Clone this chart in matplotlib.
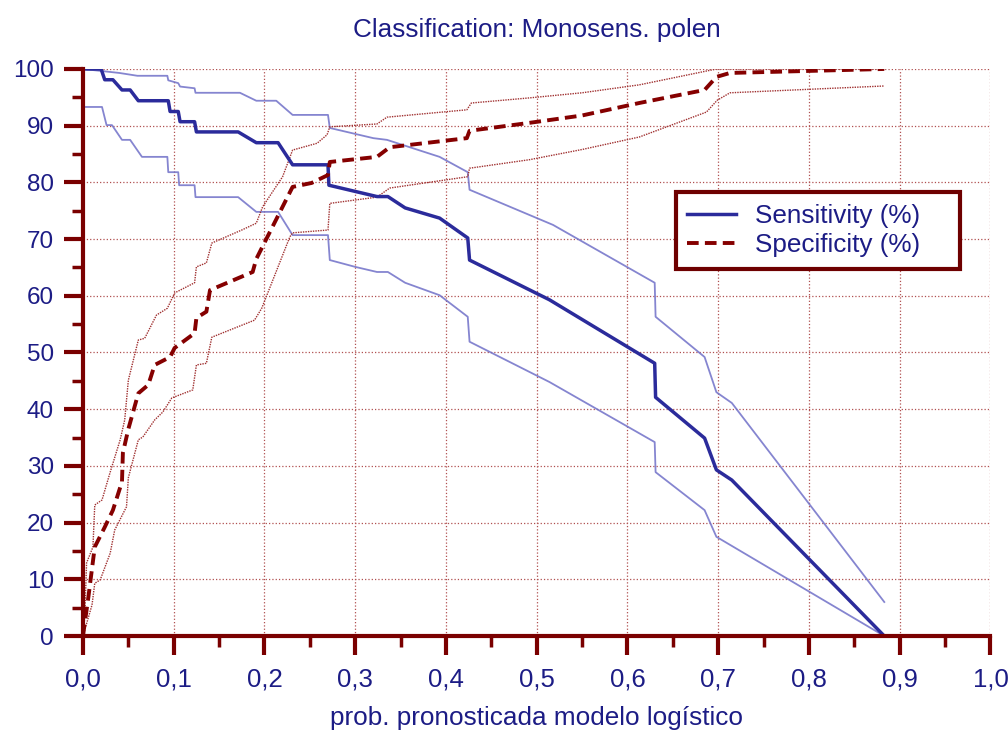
import numpy as np
import matplotlib.pyplot as plt
from matplotlib.ticker import MultipleLocator

plt.rcParams['font.family'] = ['Liberation Sans', 'DejaVu Sans']

# sensitivity (%) with band
sens_x = [0.000, 0.020, 0.024, 0.033, 0.043, 0.052, 0.061, 0.094, 0.096, 0.105, 0.107, 0.123, 0.125,
          0.171, 0.191, 0.215, 0.231, 0.270, 0.271, 0.324, 0.336, 0.355, 0.393, 0.424, 0.426, 0.514,
          0.630, 0.631, 0.685, 0.698, 0.715, 0.883]
sens_y = [100, 100, 98.1, 98.1, 96.3, 96.3, 94.4, 94.4, 92.5, 92.5, 90.7, 90.7, 88.9,
          88.9, 87.0, 87.0, 83.1, 83.1, 79.5, 77.5, 77.5, 75.5, 73.7, 70.2, 66.3, 59.3,
          48.1, 42.1, 34.9, 29.3, 27.5, 0]
su_x = [0, 0.040, 0.060, 0.093, 0.094, 0.105, 0.107, 0.123, 0.124, 0.173, 0.191, 0.213, 0.231, 0.270,
        0.272, 0.320, 0.335, 0.393, 0.424, 0.426, 0.518, 0.630, 0.631, 0.685, 0.698, 0.715, 0.883]
su_y = [100, 99.3, 98.8, 98.8, 98.0, 97.5, 96.9, 96.6, 95.8, 95.8, 94.4, 94.4, 91.9, 91.9,
        89.6, 87.8, 87.5, 84.5, 81.8, 78.7, 72.5, 62.3, 56.3, 49.2, 43.0, 41.1, 6.0]
sl_x = [0, 0.021, 0.026, 0.032, 0.043, 0.052, 0.065, 0.093, 0.094, 0.105, 0.106, 0.123, 0.124, 0.171,
        0.191, 0.215, 0.231, 0.270, 0.272, 0.300, 0.324, 0.336, 0.355, 0.393, 0.424, 0.426, 0.514,
        0.630, 0.631, 0.685, 0.698, 0.883]
sl_y = [93.3, 93.3, 90.1, 90.1, 87.5, 87.5, 84.5, 84.5, 81.8, 81.8, 79.5, 79.5, 77.4, 77.4,
        74.8, 74.8, 70.7, 70.7, 66.3, 65.1, 64.2, 64.2, 62.3, 60.1, 56.3, 51.9, 44.8,
        34.2, 28.9, 22.2, 17.5, 0]

# specificity (%) with band
spec_x = [0, 0.006, 0.013, 0.024, 0.033, 0.043, 0.044, 0.050, 0.061, 0.072, 0.079, 0.096, 0.101,
          0.123, 0.125, 0.136, 0.140, 0.187, 0.191, 0.231, 0.252, 0.270, 0.272, 0.324, 0.338,
          0.423, 0.426, 0.492, 0.550, 0.613, 0.685, 0.698, 0.713, 0.883]
spec_y = [0, 6.9, 15.7, 19.2, 22.2, 27.2, 32.3, 36.5, 42.8, 44.3, 47.8, 49.2, 50.8,
          53.4, 56.1, 57.2, 61.0, 64.2, 66.5, 79.2, 79.9, 81.3, 83.6, 84.5, 86.2,
          87.8, 89.1, 90.5, 91.8, 94.0, 96.3, 98.6, 99.3, 100]
spu_x = [0, 0.002, 0.004, 0.011, 0.013, 0.021, 0.030, 0.041, 0.046, 0.050, 0.061, 0.068, 0.081,
         0.093, 0.101, 0.123, 0.125, 0.136, 0.142, 0.175, 0.191, 0.198, 0.220, 0.231, 0.258,
         0.269, 0.272, 0.324, 0.335, 0.423, 0.428, 0.492, 0.550, 0.613, 0.698, 0.883]
spu_y = [0, 3.4, 12.9, 15.7, 23.1, 24.0, 28.9, 34.6, 38.1, 45.1, 52.2, 52.5, 56.6,
         57.8, 60.5, 62.3, 65.1, 65.8, 69.3, 71.6, 72.8, 75.7, 81.0, 85.7, 86.9,
         88.4, 89.8, 90.3, 91.5, 92.8, 94.0, 94.9, 95.8, 97.2, 100, 100]
spl_x = [0, 0.010, 0.013, 0.019, 0.030, 0.035, 0.048, 0.050, 0.061, 0.066, 0.079, 0.088, 0.098,
         0.121, 0.125, 0.136, 0.142, 0.189, 0.197, 0.228, 0.231, 0.270, 0.272, 0.324, 0.338,
         0.424, 0.426, 0.492, 0.550, 0.613, 0.687, 0.699, 0.713, 0.883]
spl_y = [0, 5.5, 9.3, 9.9, 14.6, 18.7, 22.8, 27.9, 34.6, 35.1, 38.1, 39.5, 42.0,
         43.4, 47.8, 48.1, 52.7, 55.7, 57.8, 70.4, 71.1, 71.6, 76.3, 77.4, 79.0,
         81.0, 82.5, 84.0, 85.8, 88.0, 92.4, 94.5, 95.8, 97.0]

navy = '#1c1c85'
red = '#7a0000'
blue = '#2b2b9b'

fig = plt.figure(figsize=(10.08, 7.33), dpi=100)
ax = fig.add_axes([0.0823, 0.1323, 0.9003, 0.7736])

ax.plot(su_x, su_y, color='#7070c8', lw=1.3, alpha=0.85)
ax.plot(sl_x, sl_y, color='#7070c8', lw=1.3, alpha=0.85)
ax.plot(spu_x, spu_y, color='#a03030', lw=1.0, ls=(0, (1, 0.8)))
ax.plot(spl_x, spl_y, color='#a03030', lw=1.0, ls=(0, (1, 0.8)))
ax.plot(sens_x, sens_y, color=blue, lw=2.5, label='Sensitivity (%)')
ax.plot(spec_x, spec_y, color='#850000', lw=2.8, ls=(0, (3, 1.6)), label='Specificity (%)')

ax.set_xlim(0, 1.0)
ax.set_ylim(0, 100)
ax.xaxis.set_minor_locator(MultipleLocator(0.05))
ax.yaxis.set_major_locator(MultipleLocator(10))
ax.yaxis.set_minor_locator(MultipleLocator(5))
ax.set_xticks(np.arange(0, 1.01, 0.1))
ax.set_xticklabels([('%.1f' % v).replace('.', ',') for v in np.arange(0, 1.01, 0.1)])

ax.grid(True, which='major', color='#b05050', ls=':', lw=0.9)
for s in ['top', 'right']:
    ax.spines[s].set_visible(False)
for s in ['left', 'bottom']:
    ax.spines[s].set_color(red)
    ax.spines[s].set_linewidth(3)
ax.tick_params(which='major', direction='out', length=14, width=3, color=red,
               labelcolor=navy, pad=7)
ax.tick_params(axis='y', which='major', labelsize=17.5)
ax.tick_params(axis='x', which='major', labelsize=18.5, pad=9)
ax.tick_params(which='minor', direction='out', length=8, width=2.5, color=red)

ax.set_title('Classification: Monosens. polen', color=navy, fontsize=18.8, pad=23)
ax.set_xlabel('prob. pronosticada modelo logístico', color=navy, fontsize=18.8, labelpad=10)

leg = ax.legend(loc='upper left', bbox_to_anchor=(0.653, 0.0, 0.313, 0.783), mode='expand',
                fontsize=18.8, frameon=True, fancybox=False, framealpha=1, handlelength=1.85,
                handletextpad=0.75, borderpad=0.45, labelspacing=0.2, borderaxespad=0)
leg.get_frame().set_edgecolor('#6e0000')
leg.get_frame().set_linewidth(3)
for t in leg.get_texts():
    t.set_color(navy)

fig.savefig('out.png', dpi=100)
